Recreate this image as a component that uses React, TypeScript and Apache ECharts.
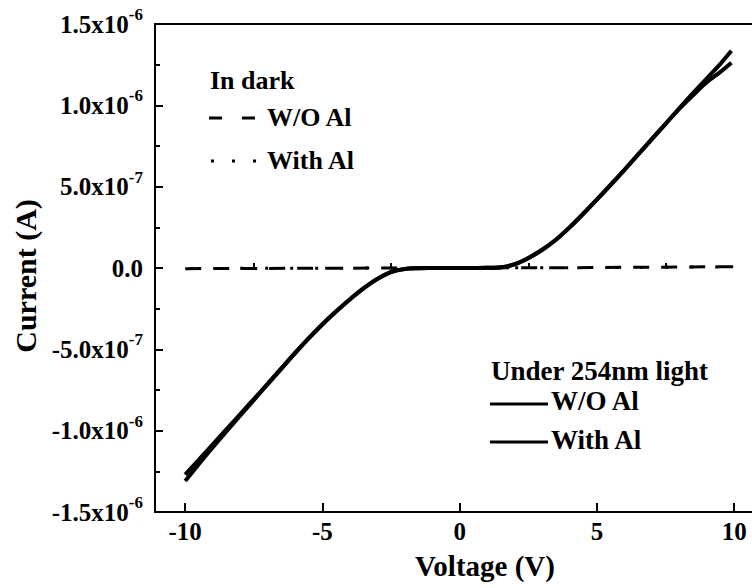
import React, { useEffect, useRef } from "react";
import * as echarts from "echarts";

// ---- Data (currents in microamps, converted to A when building series) ----
const voltageLight = [-10, -9.5, -9, -8.5, -8, -7.5, -7, -6.5, -6, -5.5, -5, -4.5, -4, -3.5, -3, -2.5, -2, -1.5, -1, -0.5, 0, 0.5, 1, 1.5, 2, 2.5, 3, 3.5, 4, 4.5, 5, 5.5, 6, 6.5, 7, 7.5, 8, 8.5, 9, 9.5, 9.9];
const lightWithoutAl_uA = [-1.31, -1.205, -1.103, -1.005, -0.908, -0.812, -0.716, -0.62, -0.525, -0.433, -0.347, -0.268, -0.194, -0.126, -0.068, -0.025, -0.006, -0.0015, -0.0005, -0.0001, 0, 0.0002, 0.0008, 0.004, 0.022, 0.06, 0.11, 0.172, 0.248, 0.332, 0.42, 0.51, 0.602, 0.697, 0.792, 0.887, 0.982, 1.075, 1.165, 1.255, 1.335];
const lightWithAl_uA = [-1.27, -1.178, -1.085, -0.992, -0.899, -0.806, -0.712, -0.617, -0.522, -0.431, -0.345, -0.266, -0.192, -0.124, -0.067, -0.024, -0.006, -0.0015, -0.0005, -0.0001, 0, 0.0002, 0.0008, 0.004, 0.024, 0.062, 0.112, 0.174, 0.25, 0.334, 0.422, 0.512, 0.604, 0.698, 0.792, 0.885, 0.978, 1.062, 1.142, 1.206, 1.262];

const voltageDark = [-10, -8, -6, -4, -2, 0, 2, 4, 6, 8, 10];
const darkWithoutAl_uA = [-0.004, -0.003, -0.002, -0.001, 0, 0, 0.001, 0.002, 0.004, 0.006, 0.008];
const darkWithAl_uA = [-0.003, -0.002, -0.002, -0.001, 0, 0, 0.001, 0.002, 0.003, 0.005, 0.007];

const xMajorTicks = [-10, -5, 0, 5, 10];
const xMinorTicks = [-7.5, -2.5, 2.5, 7.5];
const xTickLabels = ["-10", "-5", "0", "5", "10"];

const yTickValues = [-1.5e-6, -1.0e-6, -5.0e-7, 0, 5.0e-7, 1.0e-6, 1.5e-6];
const yTickMantissa = ["-1.5x10", "-1.0x10", "-5.0x10", "0.0", "5.0x10", "1.0x10", "1.5x10"];
const yTickExponent = ["-6", "-6", "-7", "", "-7", "-6", "-6"];

const FONT = '"Liberation Serif", "Times New Roman", serif';
const uA = 1e-6;

export default function App() {
  const ref = useRef<HTMLDivElement>(null);

  useEffect(() => {
    if (!ref.current) return;
    const chart = echarts.init(ref.current, undefined, { renderer: "svg" });

    const toPairs = (xs: number[], ys: number[]) => xs.map((x, i) => [x, ys[i] * uA]);

    const textStyle = (size: number) => ({
      fontFamily: FONT,
      fontWeight: "bold" as const,
      fontSize: size,
      fill: "#000",
    });

    const option: any = {
      animation: false,
      backgroundColor: "#fff",
      grid: { left: 155, right: 0, top: 24, bottom: 76 },
      xAxis: [
        {
          type: "value",
          min: -11.1,
          max: 10.65,
          position: "bottom",
          axisLine: { show: true, onZero: false, lineStyle: { color: "#000", width: 2 } },
          axisTick: { show: true, inside: true, length: 9, customValues: xMajorTicks, lineStyle: { color: "#000", width: 2 } },
          axisLabel: {
            show: true,
            customValues: xMajorTicks,
            formatter: (v: number) => {
              const i = xMajorTicks.findIndex((t) => Math.abs(t - v) < 1e-9);
              return i >= 0 ? xTickLabels[i] : "";
            },
            fontFamily: FONT,
            fontWeight: "bold",
            fontSize: 25,
            color: "#000",
            margin: 7,
          },
          splitLine: { show: false },
        },
        {
          type: "value",
          min: -11.1,
          max: 10.65,
          position: "bottom",
          axisLine: { show: false },
          axisTick: { show: true, inside: true, length: 5, customValues: xMinorTicks, lineStyle: { color: "#000", width: 2 } },
          axisLabel: { show: false },
          splitLine: { show: false },
        },
        {
          type: "value",
          min: -11.1,
          max: 10.65,
          position: "top",
          axisLine: { show: true, onZero: false, lineStyle: { color: "#000", width: 2 } },
          axisTick: { show: false },
          axisLabel: { show: false },
          splitLine: { show: false },
        },
      ],
      yAxis: {
        type: "value",
        min: -1.5e-6,
        max: 1.5e-6,
        interval: 5e-7,
        axisLine: { show: true, onZero: false, lineStyle: { color: "#000", width: 2 } },
        axisTick: { show: true, inside: true, length: 8, lineStyle: { color: "#000", width: 2 } },
        minorTick: { show: true, splitNumber: 2, length: 5, lineStyle: { color: "#000", width: 2 } },
        splitLine: { show: false },
        axisLabel: {
          margin: 12,
          fontFamily: FONT,
          fontWeight: "bold",
          fontSize: 25,
          color: "#000",
          formatter: (v: number) => {
            const i = yTickValues.findIndex((t) => Math.abs(t - v) < 1e-12);
            if (i < 0) return "";
            return `{m|${yTickMantissa[i]}}` + (yTickExponent[i] ? `{s|${yTickExponent[i]}}` : "");
          },
          rich: {
            m: { fontFamily: FONT, fontWeight: "bold", fontSize: 25, color: "#000", lineHeight: 36 },
            s: { fontFamily: FONT, fontWeight: "bold", fontSize: 17, color: "#000", lineHeight: 17, verticalAlign: "top" },
          },
        },
      },
      series: [
        {
          name: "Dark W/O Al",
          type: "line",
          data: toPairs(voltageDark, darkWithoutAl_uA),
          showSymbol: false,
          lineStyle: { color: "#000", width: 3, type: [16, 12] },
        },
        {
          name: "Dark With Al",
          type: "line",
          data: toPairs(voltageDark, darkWithAl_uA),
          showSymbol: false,
          lineStyle: { color: "#000", width: 3, type: [3, 22], dashOffset: 20 },
        },
        {
          name: "Light W/O Al",
          type: "line",
          data: toPairs(voltageLight, lightWithoutAl_uA),
          showSymbol: false,
          smooth: 0.3,
          lineStyle: { color: "#000", width: 4 },
        },
        {
          name: "Light With Al",
          type: "line",
          data: toPairs(voltageLight, lightWithAl_uA),
          showSymbol: false,
          smooth: 0.3,
          lineStyle: { color: "#000", width: 4 },
        },
      ],
      graphic: [
        // axis titles
        {
          type: "text",
          x: 25,
          y: 276,
          rotation: Math.PI / 2,
          style: { ...textStyle(30), text: "Current (A)", align: "center", verticalAlign: "middle" },
        },
        {
          type: "text",
          x: 485,
          y: 566,
          style: { ...textStyle(29), text: "Voltage (V)", align: "center", verticalAlign: "middle" },
        },
        // dark legend
        { type: "text", x: 210, y: 80, style: { ...textStyle(26), text: "In dark", verticalAlign: "middle" } },
        {
          type: "line",
          shape: { x1: 209, y1: 118, x2: 257, y2: 118 },
          style: { stroke: "#000", lineWidth: 3, lineDash: [13, 20] },
        },
        { type: "text", x: 267, y: 117, style: { ...textStyle(26), text: "W/O Al", verticalAlign: "middle" } },
        {
          type: "line",
          shape: { x1: 211, y1: 161, x2: 256, y2: 161 },
          style: { stroke: "#000", lineWidth: 3, lineDash: [3, 18] },
        },
        { type: "text", x: 267, y: 160, style: { ...textStyle(26), text: "With Al", verticalAlign: "middle" } },
        // light legend
        { type: "text", x: 491, y: 371, style: { ...textStyle(27), text: "Under 254nm light", verticalAlign: "middle" } },
        {
          type: "line",
          shape: { x1: 490, y1: 404, x2: 548, y2: 404 },
          style: { stroke: "#000", lineWidth: 3 },
        },
        { type: "text", x: 551, y: 401, style: { ...textStyle(27), text: "W/O Al", verticalAlign: "middle" } },
        {
          type: "line",
          shape: { x1: 490, y1: 442, x2: 548, y2: 442 },
          style: { stroke: "#000", lineWidth: 3 },
        },
        { type: "text", x: 551, y: 440, style: { ...textStyle(27), text: "With Al", verticalAlign: "middle" } },
      ],
    };

    chart.setOption(option);
    return () => chart.dispose();
  }, []);

  return (
    <div
      ref={ref}
      style={{ position: "fixed", left: 0, top: 0, width: 752, height: 588, background: "#fff" }}
    />
  );
}
